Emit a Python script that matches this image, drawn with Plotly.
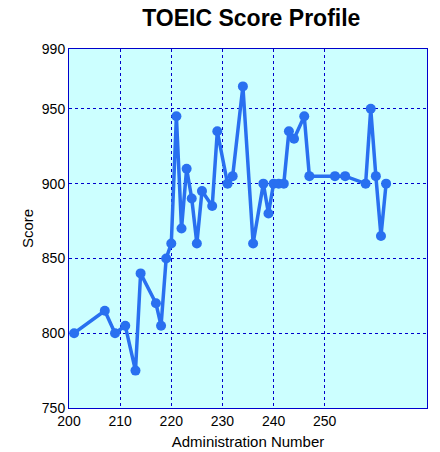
import plotly.graph_objects as go

admin = [201, 207, 209, 211, 213, 214, 217, 218, 219, 220, 221, 222, 223, 224, 225, 226,
         228, 229, 231, 232, 234, 236, 238, 239, 240, 241, 242, 243, 244, 246, 247, 252,
         254, 258, 259, 260, 261, 262]
score = [800, 815, 800, 805, 775, 840, 820, 805, 850, 860, 945, 870, 910, 890, 860, 895,
         885, 935, 900, 905, 965, 860, 900, 880, 900, 900, 900, 935, 930, 945, 905, 905,
         905, 900, 950, 905, 865, 900]
x_ticks = [200, 210, 220, 230, 240, 250]
y_ticks = [750, 800, 850, 900, 950, 990]

fig = go.Figure(go.Scatter(
    x=admin, y=score, mode='lines+markers',
    line=dict(color='#2970f0', width=3.5),
    marker=dict(color='#2970f0', size=10),
))

axis_common = dict(showgrid=True, gridcolor='#0000cc', griddash='dot', gridwidth=1,
                   showline=True, linecolor='#0000cc', linewidth=1, mirror=True,
                   ticks='', zeroline=False, automargin=False,
                   tickfont=dict(family='Liberation Sans, Arial', size=14, color='black'),
                   title_font=dict(family='Liberation Sans, Arial', size=15, color='black'))

fig.update_xaxes(range=[200, 270], tickvals=x_ticks, title_text='Administration Number',
                 title_standoff=8, **axis_common)
fig.update_yaxes(range=[750, 990], tickvals=y_ticks, title_text='Score',
                 title_standoff=4, **axis_common)

fig.update_layout(
    width=440, height=452,
    margin=dict(l=61, r=21, t=41, b=52),
    plot_bgcolor='#ccffff', paper_bgcolor='white',
    title=dict(text='<b>TOEIC Score Profile</b>', x=0.553, xanchor='center',
               yref='container', y=0.995, yanchor='top',
               font=dict(family='Liberation Sans, Arial', size=23, color='black')),
    showlegend=False,
)

fig.write_html('out.html')
